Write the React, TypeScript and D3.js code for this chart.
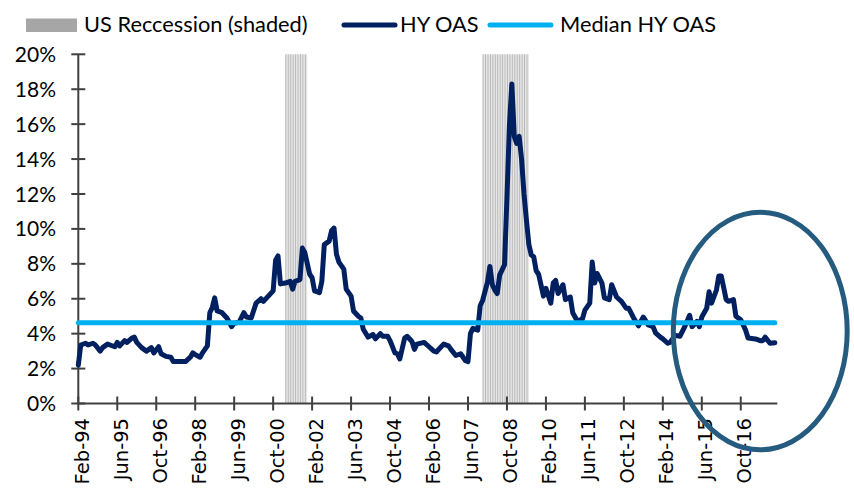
import React from "react";
import * as d3 from "d3";

// ---- data ----
const dates: string[] = [
  "1994-02","1994-03","1994-05","1994-06","1994-08","1994-09","1994-11","1994-12",
  "1995-02","1995-03","1995-05","1995-06","1995-07","1995-09","1995-10","1995-12",
  "1996-01","1996-02","1996-04","1996-06","1996-08","1996-09","1996-11","1996-12",
  "1997-02","1997-04","1997-05","1997-08","1997-10","1997-12",
  "1998-01","1998-02","1998-04","1998-05","1998-07","1998-08","1998-09","1998-10","1998-11",
  "1999-01","1999-03","1999-05","1999-06","1999-08","1999-10","1999-11",
  "2000-01","2000-03","2000-05","2000-06","2000-08","2000-10","2000-11","2000-12",
  "2001-01","2001-03","2001-05","2001-06","2001-07","2001-09","2001-10","2001-11",
  "2002-01","2002-02","2002-03","2002-05","2002-06","2002-07","2002-09","2002-10","2002-11","2002-12",
  "2003-01","2003-03","2003-04","2003-06","2003-07","2003-09","2003-10","2003-11",
  "2004-01","2004-03","2004-04","2004-06","2004-07","2004-09","2004-10","2004-12",
  "2005-01","2005-02","2005-04","2005-05","2005-07","2005-08","2005-09","2005-12",
  "2006-02","2006-04","2006-05","2006-08","2006-10","2006-11",
  "2007-01","2007-03","2007-05","2007-06","2007-07","2007-08","2007-10","2007-11","2007-12",
  "2008-02","2008-03","2008-04","2008-05","2008-06","2008-07","2008-09","2008-10","2008-11","2008-12",
  "2009-01","2009-02","2009-03","2009-04","2009-05","2009-06","2009-07","2009-08","2009-09","2009-10","2009-11",
  "2010-01","2010-02","2010-04","2010-05","2010-06","2010-07","2010-09","2010-10","2010-12",
  "2011-01","2011-03","2011-05","2011-06","2011-08","2011-09","2011-10","2011-11",
  "2012-01","2012-02","2012-04","2012-05","2012-07","2012-09","2012-11","2012-12",
  "2013-02","2013-04","2013-06","2013-08","2013-10","2013-11",
  "2014-01","2014-02","2014-04","2014-05","2014-07","2014-09","2014-11",
  "2015-01","2015-02","2015-04","2015-05","2015-06","2015-08","2015-09","2015-10","2015-12",
  "2016-01","2016-02","2016-04","2016-05","2016-07","2016-08","2016-10","2016-12",
  "2017-01","2017-04","2017-06","2017-07","2017-08","2017-10","2017-12",
];

const hyOas: number[] = [
  2.2,3.35,3.45,3.35,3.45,3.35,3.0,3.2,
  3.4,3.35,3.25,3.5,3.3,3.6,3.5,3.75,
  3.8,3.5,3.2,3.0,3.2,2.9,3.25,2.85,
  2.7,2.65,2.4,2.4,2.4,2.65,
  2.9,2.8,2.65,2.9,3.3,5.2,5.5,6.05,5.3,
  5.2,4.9,4.4,4.6,4.65,5.2,4.95,
  4.9,5.75,6.0,5.85,6.15,6.45,8.2,8.45,
  6.85,6.9,7.0,6.55,7.0,7.1,8.9,8.65,
  7.4,7.2,6.45,6.35,7.0,9.1,9.3,9.9,10.05,8.55,
  8.1,7.7,6.55,6.15,5.3,5.0,4.9,4.25,
  3.8,3.95,3.7,4.0,3.85,3.85,3.6,2.9,
  2.85,2.55,3.75,3.85,3.55,3.1,3.4,3.5,
  3.25,3.0,2.95,3.4,3.3,3.1,
  2.75,2.85,2.45,2.4,4.0,4.3,4.2,5.6,5.9,
  6.95,7.85,6.8,6.5,6.3,7.35,7.95,11.8,15.9,18.3,
  15.3,14.9,15.3,14.0,12.0,10.5,9.1,8.5,8.4,7.6,7.4,
  6.15,6.6,5.75,6.9,7.05,6.3,6.8,5.95,6.1,
  5.2,4.7,4.85,5.35,5.75,8.1,6.9,7.45,
  6.9,6.05,5.95,6.8,6.1,5.85,5.45,5.45,
  4.9,4.45,4.95,4.5,4.4,4.05,
  3.8,3.7,3.45,3.5,3.9,3.85,4.4,
  5.05,4.4,4.7,4.4,4.95,5.45,6.4,5.75,6.5,
  7.3,7.3,5.95,5.85,5.95,5.0,4.8,4.2,
  3.75,3.7,3.6,3.6,3.8,3.45,3.48,
];

const medianHyOas = 4.63;

const recessionStarts: string[] = ["2001-03", "2007-12"];
const recessionEnds: string[] = ["2001-11", "2009-06"];

const xTickLabels: string[] = [
  "Feb-94","Jun-95","Oct-96","Feb-98","Jun-99","Oct-00","Feb-02","Jun-03","Oct-04",
  "Feb-06","Jun-07","Oct-08","Feb-10","Jun-11","Oct-12","Feb-14","Jun-15","Oct-16",
];
const yTickValues: number[] = [0, 2, 4, 6, 8, 10, 12, 14, 16, 18, 20];

const legendLabels: string[] = ["US Reccession (shaded)", "HY OAS", "Median HY OAS"];

const axisStart = "1994-02";
const axisEnd = "2018-01";

// highlight ellipse annotation (in data terms)
const highlightCenterMonth = "2017-06";
const highlightCenterValue = 4.15;
const highlightHalfWidthMonths = 35.7;
const highlightHalfHeightValue = 6.8;

// ---- layout ----
const W = 854;
const H = 492;
const plotLeft = 78.3;
const plotRight = 777.3;
const plotTop = 54.3;
const plotBottom = 403.5;

const NAVY = "#002060";
const CYAN = "#00B0F0";
const AXIS = "#404040";

function monthIndex(s: string): number {
  const [y, m] = s.split("-").map(Number);
  return y * 12 + (m - 1);
}
const parseTick = d3.timeParse("%b-%y");
function tickMonthIndex(label: string): number {
  const d = parseTick(label) as Date;
  return d.getFullYear() * 12 + d.getMonth();
}

export default function App() {
  const x = d3
    .scaleLinear()
    .domain([monthIndex(axisStart), monthIndex(axisEnd)])
    .range([plotLeft, plotRight]);
  const y = d3.scaleLinear().domain([0, 20]).range([plotBottom, plotTop]);

  const points = dates.map((d, i) => ({ m: monthIndex(d), v: hyOas[i] }));
  const line = d3
    .line<{ m: number; v: number }>()
    .x((d) => x(d.m))
    .y((d) => y(d.v));

  const recessionMonths: number[] = [];
  recessionStarts.forEach((s, k) => {
    d3.range(monthIndex(s), monthIndex(recessionEnds[k]) + 1).forEach((m) =>
      recessionMonths.push(m)
    );
  });

  const firstM = monthIndex(dates[0]);
  const lastM = monthIndex(dates[dates.length - 1]);

  const ecx = x(monthIndex(highlightCenterMonth));
  const ecy = y(highlightCenterValue);
  const erx = x(monthIndex(highlightCenterMonth) + highlightHalfWidthMonths) - ecx;
  const ery = y(0) - y(highlightHalfHeightValue);

  const font = "Lato, 'Noto Sans', sans-serif";

  return (
    <svg
      width={W}
      height={H}
      style={{ position: "absolute", left: 0, top: 0, background: "#fff" }}
    >
      {/* recession shading */}
      <g>
        {recessionMonths.map((m) => (
          <g key={m}>
            <rect
              x={x(m)}
              y={y(20)}
              width={x(m + 1) - x(m)}
              height={y(0) - y(20)}
              fill="#e6e6e6"
            />
            <line
              x1={x(m) + 0.5}
              x2={x(m) + 0.5}
              y1={y(20)}
              y2={y(0)}
              stroke="#b9b9b9"
              strokeWidth={1}
            />
          </g>
        ))}
      </g>

      {/* y axis */}
      <g>
        <line x1={plotLeft} x2={plotLeft} y1={y(20)} y2={y(0)} stroke={AXIS} strokeWidth={2} />
        {yTickValues.map((v) => (
          <g key={v}>
            <line
              x1={plotLeft - 7}
              x2={plotLeft + 7}
              y1={y(v)}
              y2={y(v)}
              stroke={AXIS}
              strokeWidth={2}
            />
            <text
              x={56}
              y={y(v)}
              dy="0.36em"
              textAnchor="end"
              fontFamily={font}
              fontSize={21}
              fill="#000"
            >
              {v + "%"}
            </text>
          </g>
        ))}
      </g>

      {/* x axis */}
      <g>
        <line x1={plotLeft} x2={plotRight} y1={y(0)} y2={y(0)} stroke={AXIS} strokeWidth={2} />
        {xTickLabels.map((lab) => {
          const tx = x(tickMonthIndex(lab));
          return (
            <g key={lab}>
              <line
                x1={tx}
                x2={tx}
                y1={y(0) - 7}
                y2={y(0) + 7}
                stroke={AXIS}
                strokeWidth={2}
              />
              <text
                transform={`translate(${tx},418) rotate(-90)`}
                dy={10.5}
                textAnchor="end"
                fontFamily="'DejaVu Sans', sans-serif"
                fontSize={19.5}
                fill="#000"
              >
                {lab}
              </text>
            </g>
          );
        })}
      </g>

      {/* HY OAS line */}
      <path
        d={line(points) || ""}
        fill="none"
        stroke={NAVY}
        strokeWidth={5}
        strokeLinejoin="round"
        strokeLinecap="round"
      />

      {/* median line */}
      <line
        x1={x(firstM)}
        x2={x(lastM)}
        y1={y(medianHyOas)}
        y2={y(medianHyOas)}
        stroke={CYAN}
        strokeWidth={5}
        strokeLinecap="round"
      />

      {/* legend */}
      <g fontFamily={font} fontSize={21.8} fill="#000">
        <rect x={26} y={18.5} width={51} height={13.5} fill="#a6a6a6" />
        <text x={84} y={32}>{legendLabels[0]}</text>
        <line x1={344} x2={395} y1={25} y2={25} stroke={NAVY} strokeWidth={5} strokeLinecap="round" />
        <text x={400} y={32}>{legendLabels[1]}</text>
        <line x1={490} x2={551} y1={25} y2={25} stroke={CYAN} strokeWidth={5} strokeLinecap="round" />
        <text x={560} y={32}>{legendLabels[2]}</text>
      </g>

      {/* highlight ellipse */}
      <ellipse
        cx={ecx}
        cy={ecy}
        rx={erx}
        ry={ery}
        fill="none"
        stroke="#245b7e"
        strokeWidth={5}
      />
    </svg>
  );
}
